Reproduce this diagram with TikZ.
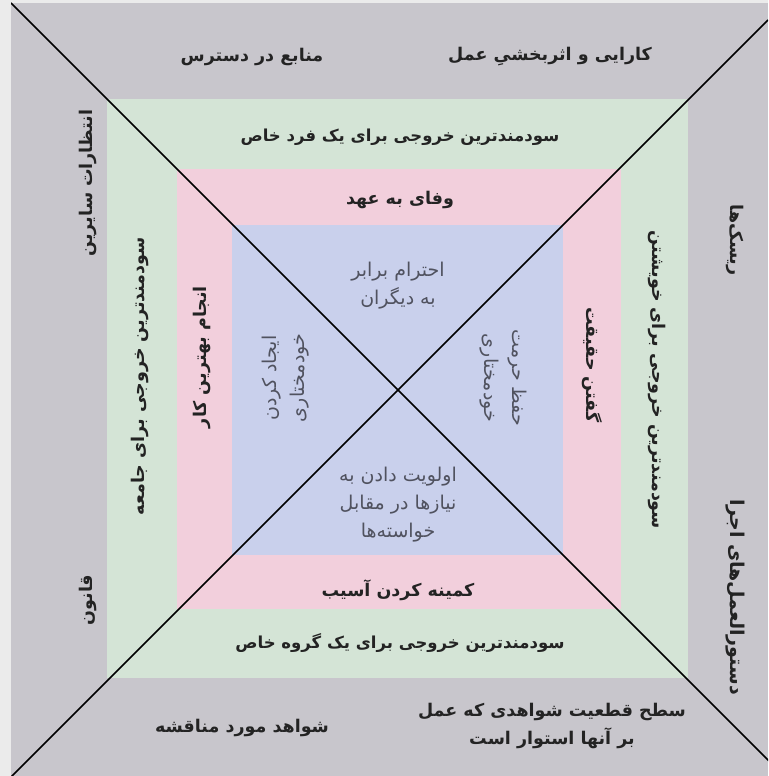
\documentclass[tikz,border=0pt]{standalone}
\usepackage{fontspec}
\newfontfamily\farsi[Script=Arabic]{DejaVu Sans}
\TeXXeTstate=1
\newcommand{\fa}[1]{\beginR #1\endR}
\definecolor{pagegray}{RGB}{235,235,235}
\definecolor{bandgray}{RGB}{200,198,204}
\definecolor{bandgreen}{RGB}{212,228,214}
\definecolor{bandpink}{RGB}{242,207,220}
\definecolor{bandblue}{RGB}{201,208,236}
\definecolor{inktext}{RGB}{35,35,35}
\definecolor{softtext}{RGB}{80,82,95}
\begin{document}
\begin{tikzpicture}[x=1pt,y=-1pt,
  lbl/.style={font=\farsi\bfseries\fontsize{17.5}{28}\selectfont, text=inktext, inner sep=0pt, align=center},
  wide/.style={lbl, font=\farsi\bfseries\fontsize{16.5}{28}\selectfont},
  inner/.style={lbl, font=\farsi\fontsize{19}{28}\selectfont, text=softtext}]
\useasboundingbox (0,0) rectangle (768,776);
\fill[pagegray] (0,0) rectangle (768,776);
\fill[bandgray] (11,3) rectangle (768,776);
\fill[bandgreen] (107,99) rectangle (688,678);
\fill[bandpink] (177,169) rectangle (621,609);
\fill[bandblue] (232,225) rectangle (563,555);
\begin{scope}
\clip (11,3) rectangle (768,776);
\draw[line width=1.5pt] (11,3) -- (784,776);
\draw[line width=1.5pt] (10,778) -- (768,20);
\end{scope}
% outer band
\node[lbl] (efficiency) at (550,57) {\fa{کارایی و اثربخشیِ عمل}};
\node[lbl] (resources) at (252,57) {\fa{منابع در دسترس}};
\node[lbl, rotate=90] (expect) at (88,183) {\fa{انتظارات سایرین}};
\node[lbl, rotate=90] (law) at (88,600) {\fa{قانون}};
\node[lbl, rotate=-90] (risks) at (735,240) {\fa{ریسک‌ها}};
\node[lbl, rotate=-90, font=\farsi\bfseries\fontsize{19}{28}\selectfont] (rules) at (735,597) {\fa{دستورالعمل‌های اجرا}};
\node[lbl] (disputed) at (242,728) {\fa{شواهد مورد مناقشه}};
\node[lbl] (certainty) at (552,726) {\fa{سطح قطعیت شواهدی که عمل}\\\fa{بر آنها استوار است}};
% green band
\node[wide] (person) at (400,137) {\fa{سودمندترین خروجی برای یک فرد خاص}};
\node[wide] (group) at (400,643) {\fa{سودمندترین خروجی برای یک گروه خاص}};
\node[lbl, rotate=90] (society) at (140,376) {\fa{سودمندترین خروجی برای جامعه}};
\node[lbl, rotate=-90] (oneself) at (657,380) {\fa{سودمندترین خروجی برای خویشتن}};
% pink band
\node[lbl] (promise) at (400,200) {\fa{وفای به عهد}};
\node[lbl] (harm) at (398,590) {\fa{کمینه کردن آسیب}};
\node[lbl, rotate=90] (best) at (202,357) {\fa{انجام بهترین کار}};
\node[lbl, rotate=-90] (truth) at (592,365) {\fa{گفتن حقیقت}};
% blue square
\node[inner] (respect) at (398,286) {\fa{احترام برابر}\\\fa{به دیگران}};
\node[inner, rotate=90] (create) at (286,378) {\fa{ایجاد کردن}\\\fa{خودمختاری}};
\node[inner, rotate=-90] (keep) at (503,378) {\fa{حفظ حرمت}\\\fa{خودمختاری}};
\node[inner] (needs) at (398,505) {\fa{اولویت دادن به}\\\fa{نیازها در مقابل}\\\fa{خواسته‌ها}};
\end{tikzpicture}
\end{document}
